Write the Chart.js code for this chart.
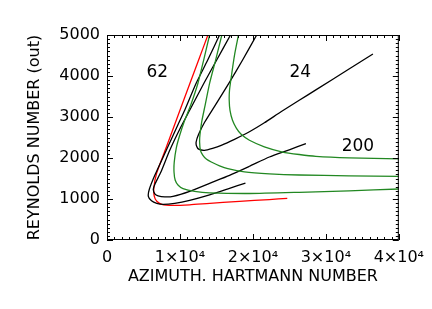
<!DOCTYPE html>
<html>
<head>
<meta charset="utf-8">
<script src="https://cdn.jsdelivr.net/npm/chart.js@4.4.1/dist/chart.umd.min.js"></script>
<style>
  html, body { margin: 0; padding: 0; background: #fff; }
  canvas { display: block; }
</style>
</head>
<body>
<canvas id="chart" width="432" height="309"></canvas>
<script>
// curves: x = azimuthal Hartmann number, y = Reynolds number (out)
var redX = [13830, 12546, 11372, 10253, 9242, 7973, 6785, 6416, 6485, 6826, 7509, 9010, 11331, 13652, 18157, 22253, 24710];
var redY = [5000, 4383, 3822, 3285, 2798, 2188, 1620, 1261, 1066, 944, 871, 846, 859, 888, 944, 985, 1017];

var blackAX = [15427, 13789, 12219, 10649, 9693, 8123, 6553, 5802, 5666, 6102, 6826, 7686, 9283, 11331, 14062, 16792, 18976];
var blackAY = [5000, 4383, 3822, 3163, 2798, 2188, 1578, 1237, 1066, 956, 895, 871, 895, 968, 1102, 1261, 1390];

var blackBX = [16928, 15017, 13283, 11331, 10102, 8601, 7372, 6621, 6348, 6553, 7003, 7918, 9051, 11331, 14062, 16792, 19522, 22253, 24983, 27263];
var blackBY = [5000, 4383, 3822, 3163, 2749, 2188, 1651, 1383, 1237, 1127, 1078, 1054, 1066, 1188, 1383, 1578, 1798, 2024, 2200, 2351];

var blackCX = [20519, 18567, 16696, 14744, 13379, 12560, 12218, 12287, 12560, 13379, 14471, 15659, 17475, 19522, 21570, 23850, 26348, 28628, 33174, 36451];
var blackCY = [5000, 4383, 3822, 3261, 2871, 2578, 2390, 2285, 2217, 2188, 2237, 2310, 2456, 2639, 2858, 3127, 3407, 3661, 4171, 4537];

var greenAX = [14062, 13242, 12464, 11468, 10649, 9966, 9488, 9215, 9188, 9352, 9761, 10417, 12014, 14062, 19522, 26348, 33174, 40000];
var greenAY = [5000, 4383, 3822, 3285, 2920, 2554, 2237, 1895, 1651, 1456, 1334, 1254, 1188, 1151, 1134, 1163, 1200, 1244];

var greenBX = [15741, 14881, 14062, 13447, 12969, 12737, 12696, 12806, 13147, 13652, 14294, 15427, 16560, 18840, 22253, 26348, 33174, 40000];
var greenBY = [5000, 4383, 3822, 3285, 2871, 2554, 2383, 2188, 2066, 1968, 1902, 1810, 1741, 1663, 1615, 1585, 1566, 1554];

var greenCX = [18021, 17475, 17065, 16792, 16751, 16860, 17202, 17748, 18389, 19522, 21570, 24068, 26348, 28628, 33174, 40000];
var greenCY = [5000, 4505, 4017, 3651, 3407, 3163, 2920, 2724, 2578, 2432, 2273, 2146, 2085, 2041, 2005, 1980];

var xTickLabels = ['0', '1\u00d710\u2074', '2\u00d710\u2074', '3\u00d710\u2074', '4\u00d710\u2074'];
var yTickLabels = ['0', '1000', '2000', '3000', '4000', '5000'];

var curveLabels = ['62', '24', '200'];
var curveLabelX = [6900, 26500, 34400];
var curveLabelY = [4080, 4080, 2270];

var GREEN = '#228822';
var font = '"DejaVu Sans", sans-serif';

function pts(xs, ys) {
  var out = [];
  for (var i = 0; i < xs.length; i++) out.push({x: xs[i], y: ys[i]});
  return out;
}

function line(xs, ys, color) {
  return {
    data: pts(xs, ys),
    borderColor: color,
    borderWidth: 1.3,
    pointRadius: 0,
    showLine: true,
    tension: 0.2,
    fill: false
  };
}

// IDL style box: frame, inward minor/major ticks on all four sides, curve labels
var boxTicks = {
  id: 'boxTicks',
  afterDatasetsDraw: function(chart) {
    var ctx = chart.ctx, a = chart.chartArea;
    var xs = chart.scales.x, ys = chart.scales.y;
    var v, p, len;
    ctx.save();
    ctx.strokeStyle = '#000';
    ctx.lineWidth = 1;
    ctx.strokeRect(a.left + 0.5, a.top + 0.5, a.right - a.left - 1, a.bottom - a.top - 1);
    ctx.beginPath();
    for (v = 0; v <= 40000; v += 1000) {
      p = Math.round(xs.getPixelForValue(v)) + 0.5;
      len = v % 10000 === 0 ? 6 : 3;
      ctx.moveTo(p, a.bottom); ctx.lineTo(p, a.bottom - len);
      ctx.moveTo(p, a.top); ctx.lineTo(p, a.top + len);
    }
    for (v = 0; v <= 5000; v += 100) {
      p = Math.round(ys.getPixelForValue(v)) + 0.5;
      len = v % 1000 === 0 ? 6 : 3;
      ctx.moveTo(a.left, p); ctx.lineTo(a.left + len, p);
      ctx.moveTo(a.right, p); ctx.lineTo(a.right - len, p);
    }
    ctx.stroke();

    ctx.fillStyle = '#000';
    ctx.font = '17px ' + font;
    ctx.textAlign = 'center';
    ctx.textBaseline = 'middle';
    for (var i = 0; i < curveLabels.length; i++) {
      ctx.fillText(curveLabels[i], xs.getPixelForValue(curveLabelX[i]), ys.getPixelForValue(curveLabelY[i]));
    }
    ctx.restore();
  }
};

new Chart(document.getElementById('chart'), {
  type: 'scatter',
  data: {
    datasets: [
      line(greenAX, greenAY, GREEN),
      line(greenBX, greenBY, GREEN),
      line(greenCX, greenCY, GREEN),
      line(blackAX, blackAY, '#000'),
      line(blackBX, blackBY, '#000'),
      line(blackCX, blackCY, '#000'),
      line(redX, redY, '#ff0000')
    ]
  },
  options: {
    responsive: false,
    animation: false,
    devicePixelRatio: 1,
    layout: { padding: { top: 35, right: 32, left: 0, bottom: 0 } },
    plugins: {
      legend: { display: false },
      tooltip: { enabled: false }
    },
    scales: {
      x: {
        type: 'linear',
        min: 0,
        max: 40000,
        grid: { display: false, drawTicks: false },
        border: { display: false },
        afterFit: function(s) { s.height = 69; },
        ticks: {
          stepSize: 10000,
          padding: 8,
          maxRotation: 0,
          autoSkip: false,
          color: '#000',
          font: { family: font, size: 16 },
          callback: function(v, i) { return xTickLabels[i]; }
        },
        title: {
          display: true,
          text: 'AZIMUTH. HARTMANN NUMBER',
          color: '#000',
          font: { family: font, size: 16 },
          padding: { top: 0, bottom: 23 }
        }
      },
      y: {
        type: 'linear',
        min: 0,
        max: 5000,
        grid: { display: false, drawTicks: false },
        border: { display: false },
        afterFit: function(s) { s.width = 107; },
        ticks: {
          stepSize: 1000,
          padding: 7,
          color: '#000',
          font: { family: font, size: 16 },
          callback: function(v, i) { return yTickLabels[i]; }
        },
        title: {
          display: true,
          text: 'REYNOLDS NUMBER (out)',
          color: '#000',
          font: { family: font, size: 16 },
          padding: { top: 25, bottom: 0 }
        }
      }
    }
  },
  plugins: [boxTicks]
});
</script>
</body>
</html>
